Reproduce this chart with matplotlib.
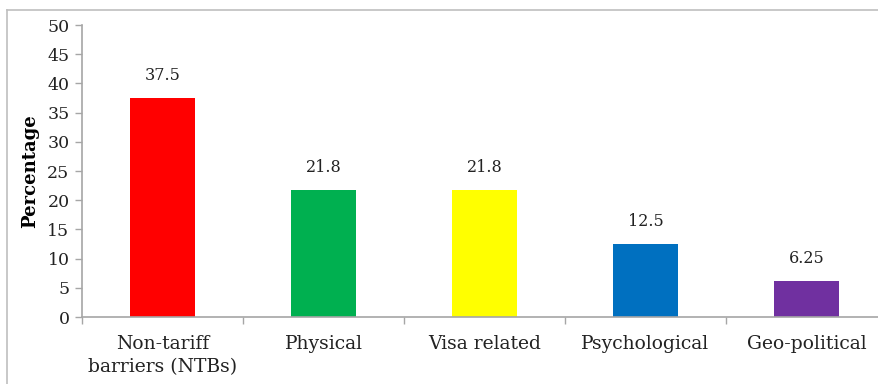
import matplotlib.pyplot as plt
from matplotlib.lines import Line2D

categories = ['Non-tariff\nbarriers (NTBs)', 'Physical', 'Visa related', 'Psychological', 'Geo-political']
values = [37.5, 21.8, 21.8, 12.5, 6.25]
value_labels = ['37.5', '21.8', '21.8', '12.5', '6.25']
colors = ['#FF0000', '#00B050', '#FFFF00', '#0070C0', '#7030A0']

plt.rcParams['font.family'] = ['DejaVu Serif']

fig = plt.figure(figsize=(8.79, 3.84), dpi=100)
# outer chart border (only top and left visible, cropped elsewhere)
bx, by = 7 / 879, 1 - 10 / 384
fig.add_artist(Line2D([bx, 1.0], [by, by], transform=fig.transFigure,
                      color='#BFBFBF', linewidth=1.2))
fig.add_artist(Line2D([bx, bx], [0, by], transform=fig.transFigure,
                      color='#BFBFBF', linewidth=1.2))

ax = fig.add_axes([82 / 879, 1 - 317 / 384, 805 / 879, 292 / 384])
x = list(range(len(categories)))
ax.bar(x, values, width=0.4, color=colors)

for xi, v, lab in zip(x, values, value_labels):
    ax.annotate(lab, (xi, v), xytext=(0, 10), textcoords='offset points',
                ha='center', va='bottom', fontsize=11.5, color='#222222')

ax.set_xlim(-0.5, len(categories) - 0.5)
ax.set_ylim(0, 50)
ax.set_yticks(range(0, 51, 5))
ax.set_xticks([i - 0.5 for i in range(len(categories) + 1)])
ax.set_xticklabels([])
ax.set_xticks(x, minor=True)
ax.set_xticklabels(categories, minor=True, fontsize=13.5, color='#222222',
                   linespacing=1.35)
ax.tick_params(axis='x', which='minor', length=0, pad=13)
ax.tick_params(axis='x', which='major', length=5, color='#A6A6A6', width=1)
ax.tick_params(axis='y', length=5, color='#A6A6A6', width=1, labelsize=12.5,
               labelcolor='#222222', pad=4)

for s in ['top', 'right']:
    ax.spines[s].set_visible(False)
for s in ['left', 'bottom']:
    ax.spines[s].set_color('#A6A6A6')
    ax.spines[s].set_linewidth(1.2)

ax.set_ylabel('Percentage', fontsize=13, fontweight='bold', labelpad=6)

plt.savefig('out.png', dpi=100)
